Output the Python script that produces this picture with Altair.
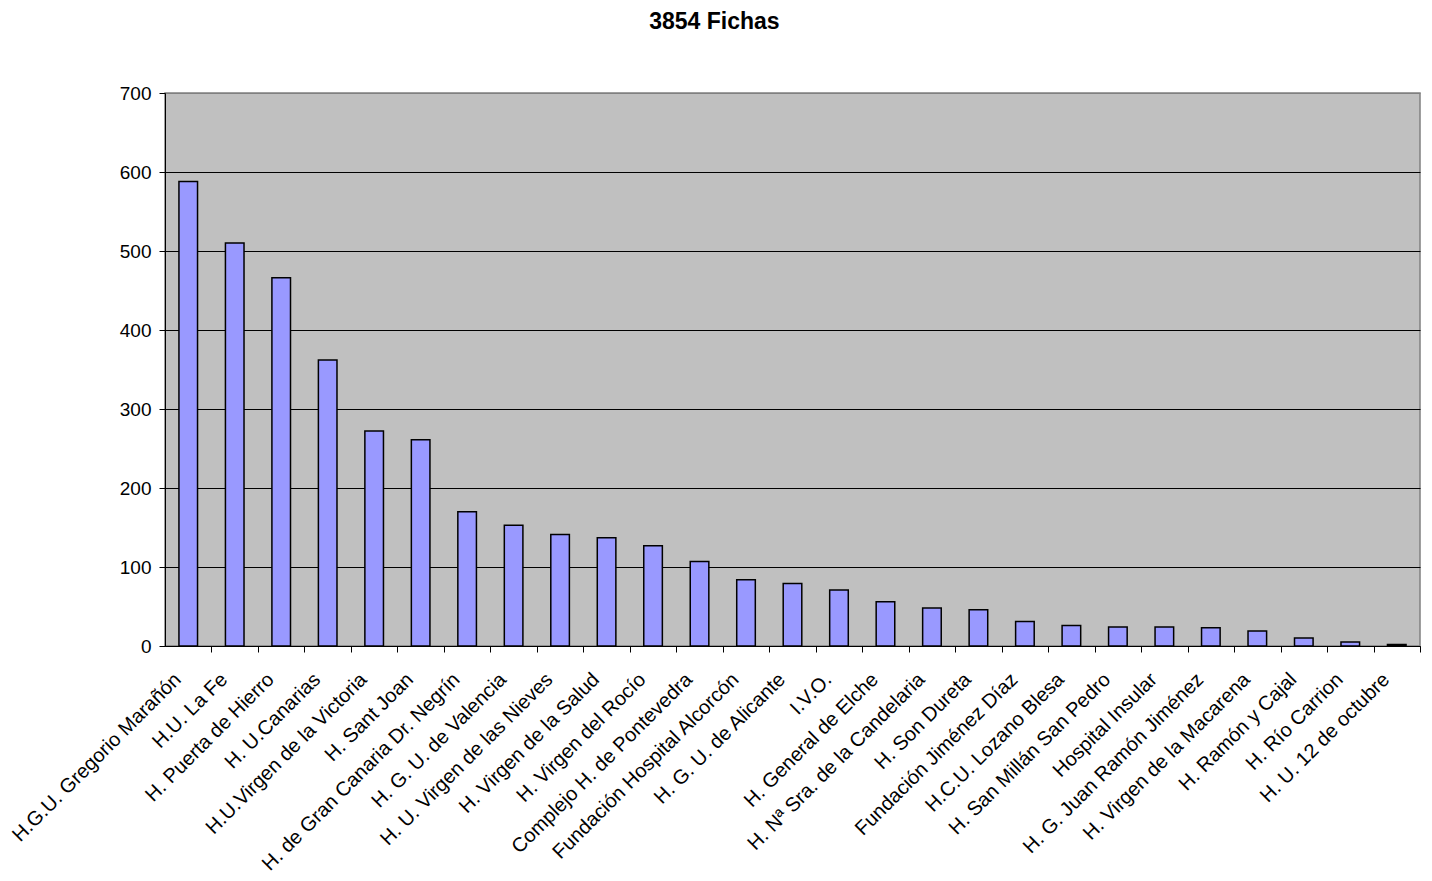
import altair as alt
import pandas as pd

hospitals = [
    "H.G.U. Gregorio Marañón", "H.U. La Fe", "H. Puerta de Hierro", "H. U.Canarias",
    "H.U.Virgen de la Victoria", "H. Sant Joan", "H. de Gran Canaria Dr. Negrín",
    "H. G. U. de Valencia", "H. U. Virgen de las Nieves", "H. Virgen de la Salud",
    "H. Virgen del Rocío", "Complejo H. de Pontevedra", "Fundación Hospital Alcorcón",
    "H. G. U. de Alicante", "I.V.O.", "H. General de Elche", "H. Nª Sra. de la Candelaria",
    "H. Son Dureta", "Fundación Jiménez Díaz", "H.C.U. Lozano Blesa",
    "H. San Millán San Pedro", "Hospital Insular", "H. G. Juan Ramón Jiménez",
    "H. Virgen de la Macarena", "H. Ramón y Cajal", "H. Río Carrion", "H. U. 12 de octubre",
]
fichas = [588, 510, 466, 362, 272, 261, 170, 153, 141, 137, 127, 107, 84, 79, 71, 56,
          48, 46, 31, 26, 24, 24, 23, 19, 10, 5, 2]
y_ticks = [0, 100, 200, 300, 400, 500, 600, 700]

df = pd.DataFrame({"hospital": hospitals, "fichas": fichas})

FONT = "Liberation Sans"
W = 1255
HALF_STEP = W / len(hospitals) / 2

chart = alt.Chart(df).mark_bar(
    color="#9999FF", stroke="#000000", strokeWidth=1.5
).encode(
    x=alt.X("hospital:N", sort=None, title=None,
            scale=alt.Scale(paddingInner=0.6, paddingOuter=0.3),
            axis=alt.Axis(labelAngle=-45, labelAlign="right", labelBaseline="top",
                          labelFontSize=20, labelFont=FONT, labelColor="#000000",
                          labelPadding=17, tickOffset=HALF_STEP,
                          labelOffset=-18 - HALF_STEP,
                          tickColor="#000000", tickSize=6, domainColor="#000000",
                          labelLimit=400)),
    y=alt.Y("fichas:Q", title=None,
            scale=alt.Scale(domain=[0, 700], nice=False),
            axis=alt.Axis(values=y_ticks, labelFontSize=19, labelFont=FONT,
                          labelColor="#000000", labelPadding=8, tickColor="#000000",
                          tickSize=6, domainColor="#000000",
                          gridColor=alt.condition("datum.value == 700",
                                                  alt.value("#808080"),
                                                  alt.value("#000000")),
                          gridWidth=1)),
).properties(
    width=W, height=553,
    title=alt.TitleParams("3854 Fichas", fontSize=23, font=FONT, fontWeight="bold",
                          anchor="middle", frame="bounds", offset=50, color="#000000"),
    padding={"left": 0, "top": 3, "right": 0, "bottom": 0},
).configure_view(
    fill="#C0C0C0", stroke="#808080", strokeWidth=1.5
)

chart.save("out.html", embed_options={"renderer": "svg", "actions": False})
